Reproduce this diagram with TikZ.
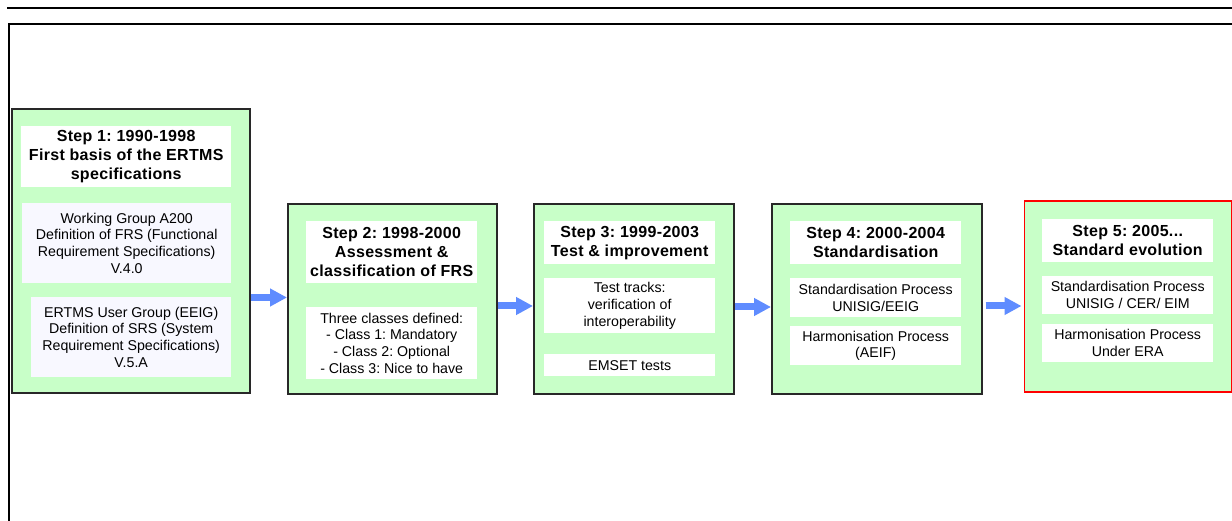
\documentclass[tikz,border=0pt]{standalone}
\usepackage{fontspec}
\setmainfont[BoldFeatures={LetterSpace=2}]{Liberation Sans}
\usetikzlibrary{arrows.meta}
\definecolor{stepgreen}{RGB}{200,255,200}
\definecolor{stepborder}{RGB}{40,40,40}
\definecolor{arrowblue}{RGB}{95,140,255}
\definecolor{paleblue}{RGB}{248,248,255}
\definecolor{stepred}{RGB}{255,0,0}
\frenchspacing
\tikzset{
  stepbox/.style={draw=stepborder, line width=1.6pt, fill=stepgreen, anchor=north west, inner sep=0pt},
  titlebox/.style={fill=white, anchor=north west, inner sep=0pt, align=center,
     font=\fontsize{16}{19}\selectfont\bfseries},
  bodybox/.style={fill=white, anchor=north west, inner sep=0pt, align=center,
     font=\fontsize{14.2}{16.7}\selectfont},
  flowarrow/.style={draw=arrowblue, line width=7pt, -{Triangle[length=17pt,width=17pt]}, shorten >=0pt},
}
\begin{document}
\begin{tikzpicture}[x=1pt,y=-1pt]
\useasboundingbox (0,0) rectangle (1232,521);
% top rule and frame
\draw[line width=2.4pt] (7,8) -- (1232,8);
\draw[line width=2.4pt] (9,521) -- (9,24) -- (1232,24);

% Step 1
\node[stepbox, minimum width=238pt, minimum height=284pt] (s1) at (11,108) {};
\node[titlebox, minimum width=210pt, minimum height=61pt] (t1) at (21,126)
  {Step 1: 1990-1998\\First basis of the ERTMS\\specifications};
\node[bodybox, fill=paleblue, minimum width=209pt, minimum height=80pt] (b11) at (22,203)
  {Working Group A200\\Definition of FRS (Functional\\Requirement Specifications)\\V.4.0};
\node[bodybox, fill=paleblue, minimum width=200pt, minimum height=80pt] (b12) at (31,297)
  {ERTMS User Group (EEIG)\\Definition of SRS (System\\Requirement Specifications)\\V.5.A};

% Step 2
\node[stepbox, minimum width=209pt, minimum height=190pt] (s2) at (287,203) {};
\node[titlebox, minimum width=171pt, minimum height=62pt] (t2) at (306,221)
  {Step 2: 1998-2000\\Assessment \&\\classification of FRS};
\node[bodybox, minimum width=171pt, minimum height=72pt] (b21) at (306,307)
  {Three classes defined:\\- Class 1: Mandatory\\- Class 2: Optional\\- Class 3: Nice to have};

% Step 3
\node[stepbox, minimum width=200pt, minimum height=190pt] (s3) at (533,203) {};
\node[titlebox, minimum width=171pt, minimum height=43pt] (t3) at (544,221)
  {Step 3: 1999-2003\\Test \& improvement};
\node[bodybox, minimum width=171pt, minimum height=55pt] (b31) at (544,278)
  {Test tracks:\\verification of\\interoperability};
\node[bodybox, minimum width=171pt, minimum height=22pt] (b32) at (544,354)
  {EMSET tests};

% Step 4
\node[stepbox, minimum width=210pt, minimum height=190pt] (s4) at (771,203) {};
\node[titlebox, minimum width=171pt, minimum height=43pt] (t4) at (790,221)
  {Step 4: 2000-2004\\Standardisation};
\node[bodybox, minimum width=171pt, minimum height=39pt] (b41) at (790,278)
  {Standardisation Process\\UNISIG/EEIG};
\node[bodybox, minimum width=171pt, minimum height=39pt] (b42) at (790,326)
  {Harmonisation Process\\(AEIF)};

% Step 5
\node[stepbox, draw=stepred, line width=1.8pt, minimum width=207pt, minimum height=191pt] (s5) at (1023.5,200) {};
\node[titlebox, minimum width=171pt, minimum height=43pt] (t5) at (1042,219)
  {Step 5: 2005...\\Standard evolution};
\node[bodybox, minimum width=171pt, minimum height=38pt] (b51) at (1042,276)
  {Standardisation Process\\UNISIG / CER/ EIM};
\node[bodybox, minimum width=171pt, minimum height=38pt] (b52) at (1042,324)
  {Harmonisation Process\\Under ERA};

% arrows
\coordinate (a1) at (s1.east |- 0,297.5);
\coordinate (a2) at (s2.east |- 0,306);
\coordinate (a3) at (s3.east |- 0,307);
\coordinate (a4) at ([xshift=3pt]s4.east |- 0,306);
\draw[flowarrow] (a1) -- (a1 -| s2.west);
\draw[flowarrow] (a2) -- (a2 -| s3.west);
\draw[flowarrow] (a3) -- (a3 -| s4.west);
\draw[flowarrow] (a4) -- ([xshift=-2pt]a4 -| s5.west);
\end{tikzpicture}
\end{document}
